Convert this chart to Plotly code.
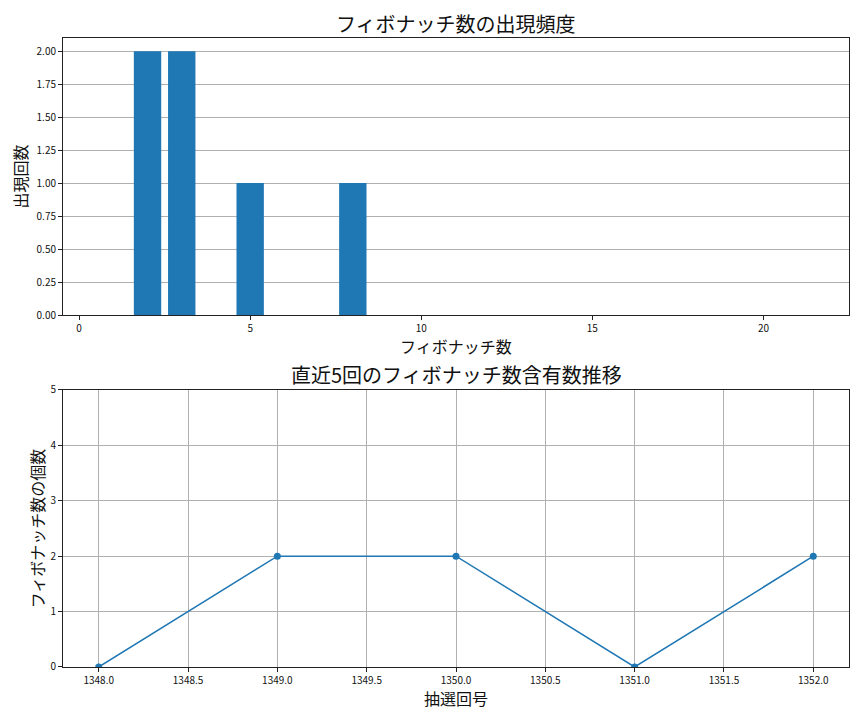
import plotly.graph_objects as go
from plotly.subplots import make_subplots

# top: how often each Fibonacci number came up
fib_numbers = [2, 3, 5, 8]
fib_counts = [2, 2, 1, 1]

# bottom: count of Fibonacci numbers in the last 5 draws
draw_ids = [1348, 1349, 1350, 1351, 1352]
fib_per_draw = [0, 2, 2, 0, 2]

BLUE = "#1f77b4"
FONT = "Noto Sans CJK JP"

fig = make_subplots(rows=2, cols=1,
                    subplot_titles=("フィボナッチ数の出現頻度", "直近5回のフィボナッチ数含有数推移"))

fig.add_trace(go.Bar(x=fib_numbers, y=fib_counts, width=0.8,
                     marker=dict(color=BLUE, line=dict(width=0))), row=1, col=1)

fig.add_trace(go.Scatter(x=draw_ids, y=fib_per_draw, mode="lines+markers",
                         line=dict(color=BLUE, width=1.5),
                         marker=dict(color=BLUE, size=7)), row=2, col=1)

axis_common = dict(showline=True, linecolor="#222", linewidth=1, mirror=True,
                   ticks="outside", ticklen=4, tickcolor="#222",
                   tickfont=dict(family=FONT, size=10, color="#111"),
                   zeroline=False)
title_font = dict(family=FONT, size=16, color="#111")

fig.update_xaxes(range=[-0.47, 22.5], tickvals=[0, 5, 10, 15, 20], showgrid=False,
                 row=1, col=1, **axis_common)
fig.update_yaxes(range=[0, 2.1], tickvals=[0, 0.25, 0.5, 0.75, 1, 1.25, 1.5, 1.75, 2],
                 tickformat=".2f", showgrid=True, gridcolor="#b0b0b0", gridwidth=1,
                 title=dict(text="出現回数", font=title_font, standoff=5),
                 domain=[0.5596, 1.0], row=1, col=1, **axis_common)

fig.update_xaxes(range=[1347.8, 1352.2], tickvals=[1348 + 0.5 * i for i in range(9)],
                 tickformat=".1f", showgrid=True, gridcolor="#b0b0b0", gridwidth=1,
                 row=2, col=1, **axis_common)
fig.update_yaxes(range=[0, 5], tickvals=[0, 1, 2, 3, 4, 5], showgrid=True,
                 gridcolor="#b0b0b0", gridwidth=1,
                 title=dict(text="フィボナッチ数の個数", font=title_font, standoff=1),
                 domain=[0.0, 0.4404], row=2, col=1, **axis_common)

# subplot titles sit just above each domain
for ann, dom_top, shift in zip(fig.layout.annotations, [1.0, 0.4404], [-2, -1]):
    ann.font = dict(family=FONT, size=20, color="#111")
    ann.y = dom_top
    ann.yshift = shift

# x-axis titles placed as annotations, a bit closer to the tick labels
for text, dom_bottom, shift in [("フィボナッチ数", 0.5596, -31), ("抽選回号", 0.0, -31)]:
    fig.add_annotation(text=text, xref="paper", yref="paper", x=0.5, y=dom_bottom,
                       yshift=shift, yanchor="middle", showarrow=False, font=title_font)

fig.update_layout(width=864, height=720, showlegend=False,
                  plot_bgcolor="white", paper_bgcolor="white",
                  margin=dict(l=55, r=23, t=30, b=61),
                  font=dict(family=FONT))

fig.write_html("out.html")
